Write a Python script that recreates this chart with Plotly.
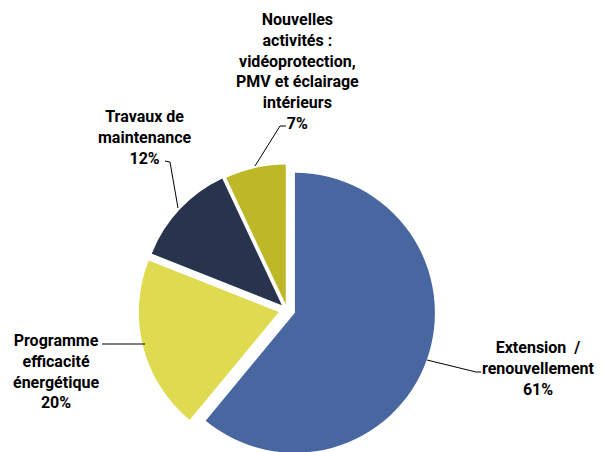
import plotly.graph_objects as go

# data
labels = ["Extension  /<br>renouvellement", "Programme<br>efficacité<br>énergétique",
          "Travaux de<br>maintenance",
          "Nouvelles<br>activités :<br>vidéoprotection,<br>PMV et éclairage<br>intérieurs"]
values = [61, 20, 12, 7]
colors = ["#4866A0", "#DEDB50", "#28344E", "#BEB727"]
pulls = [0.06, 0.06, 0.05, 0.04]

W, H = 596, 460
OFF = 8  # page body margin


def px(x, y):
    # screen pixel -> paper coords
    return (x - OFF) / W, 1 - (y - OFF) / H


# pie centre / radius in screen pixels
cx, cy, r = 287, 310, 140
half = r * (1 + max(pulls))
fx, fy = cx - OFF, cy - OFF

fig = go.Figure(go.Pie(
    labels=labels,
    values=values,
    sort=False,
    direction="clockwise",
    rotation=0,
    pull=pulls,
    marker=dict(colors=colors, line=dict(color="white", width=0)),
    textinfo="none",
    hoverinfo="label+percent",
    showlegend=False,
    domain=dict(x=[(fx - half) / W, (fx + half) / W],
                y=[(H - fy - half) / H, (H - fy + half) / H]),
))

# label positions (pixel centres) and leader line paths
label_pos = [(538, 368), (56, 371), (145, 138), (297, 72)]
leaders = [
    [(427, 360), (476, 372), (481, 372)],
    [(102, 344), (145, 344)],
    [(165, 161), (170, 162), (178, 208)],
    [(286, 126), (280, 126), (255, 166)],
]

font = dict(family="Roboto", size=16, color="#000000")
for lab, v, (x, y) in zip(labels, values, label_pos):
    ax, ay = px(x, y)
    fig.add_annotation(x=ax, y=ay, xref="paper", yref="paper",
                       xanchor="center", yanchor="middle",
                       text=f"<b>{lab}<br>{v}%</b>", showarrow=False,
                       font=font, align="center")

for pts in leaders:
    path = ""
    for i, (x, y) in enumerate(pts):
        a, b = px(x, y)
        path += ("M" if i == 0 else "L") + f" {a} {b} "
    fig.add_shape(type="path", path=path, xref="paper", yref="paper",
                  line=dict(color="#000000", width=1))

fig.update_layout(
    width=W, height=H,
    margin=dict(l=0, r=0, t=0, b=0),
    paper_bgcolor="white",
    plot_bgcolor="white",
)

fig.write_html("out.html")
